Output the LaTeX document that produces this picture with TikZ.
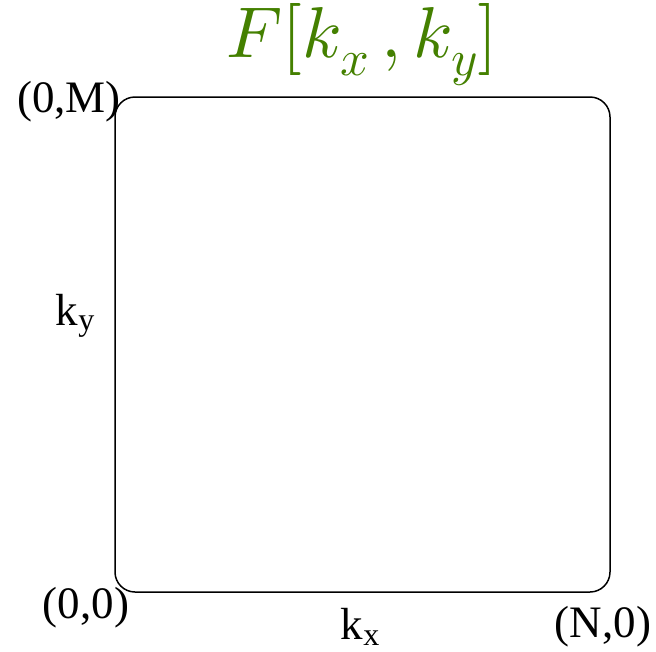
\documentclass[tikz,border=0pt]{standalone}
\usepackage{fontspec}
\setmainfont{Liberation Serif}
\usepackage{unicode-math}
\setmathfont{Latin Modern Math}
\definecolor{titlegreen}{RGB}{68,128,0}
\newcommand{\mysub}[1]{\raisebox{-0.12em}{\fontsize{32}{34}\selectfont #1}}
\begin{document}
\begin{tikzpicture}[x=1pt,y=-1pt,
  lbl/.style={inner sep=0pt,font=\fontsize{45}{48}\selectfont},
  box/.style={draw=black,line width=1.5pt,rounded corners=20pt}]
\useasboundingbox (0,0) rectangle (656,651);
\draw[box] (115,97) rectangle (610,592);
\node[inner sep=0pt,text=titlegreen,font=\fontsize{72}{75}\selectfont] (title) at (362,45) {$F[k_x\,,k_y]$};
\node[lbl] (om) at (69,102) {(0,M)};
\node[lbl] (oo) at (86,608) {(0,0)};
\node[lbl] (no) at (603,627) {(N,0)};
\node[lbl] (kx) at (360,627) {k\mysub{x}};
\node[lbl] (ky) at (75,316) {k\mysub{y}};
\end{tikzpicture}
\end{document}
